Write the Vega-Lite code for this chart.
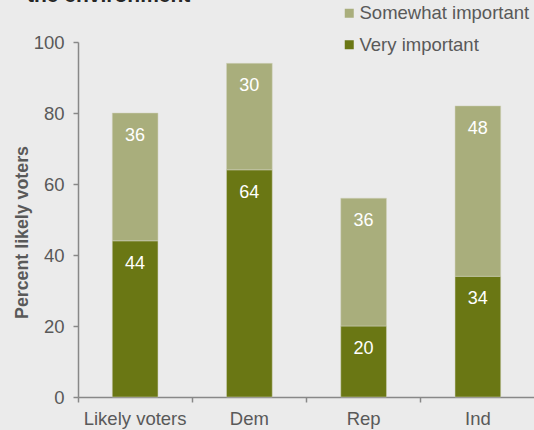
{
  "$schema": "https://vega.github.io/schema/vega-lite/v6.json",
  "autosize": "none",
  "width": 457,
  "height": 355,
  "padding": {"left": 78, "top": 42, "right": 0, "bottom": 33},
  "background": "#ebebeb",
  "title": {
    "text": "the environment",
    "anchor": "start",
    "frame": "group",
    "dx": -51,
    "offset": 0,
    "dy": 2,
    "font": "Liberation Sans",
    "fontSize": 21,
    "fontWeight": "bold",
    "color": "#262626"
  },
  "config": {
    "view": {"stroke": null},
    "font": "Liberation Sans"
  },
  "data": {
    "values": [
      {"group": "Likely voters", "series": "Very important", "rank": 1, "value": 44},
      {"group": "Likely voters", "series": "Somewhat important", "rank": 2, "value": 36},
      {"group": "Dem", "series": "Very important", "rank": 1, "value": 64},
      {"group": "Dem", "series": "Somewhat important", "rank": 2, "value": 30},
      {"group": "Rep", "series": "Very important", "rank": 1, "value": 20},
      {"group": "Rep", "series": "Somewhat important", "rank": 2, "value": 36},
      {"group": "Ind", "series": "Very important", "rank": 1, "value": 34},
      {"group": "Ind", "series": "Somewhat important", "rank": 2, "value": 48}
    ]
  },
  "encoding": {
    "x": {
      "field": "group",
      "type": "nominal",
      "sort": ["Likely voters", "Dem", "Rep", "Ind"],
      "scale": {"paddingInner": 0, "paddingOuter": 0},
      "axis": {
        "title": null,
        "labelAngle": 0,
        "labelFontSize": 18.5,
        "labelColor": "#595959",
        "labelPadding": 7,
        "domainColor": "#888888",
        "tickColor": "#888888",
        "tickSize": 5,
        "bandPosition": 0,
        "domainWidth": 1.5,
        "tickWidth": 1.5
      }
    },
    "y": {
      "field": "value",
      "type": "quantitative",
      "stack": "zero",
      "scale": {"domain": [0, 100], "nice": false},
      "axis": {
        "title": "Percent likely voters",
        "titleFontSize": 17.8,
        "titleFontWeight": "bold",
        "titleColor": "#595959",
        "titlePadding": 2,
        "titleY": 190,
        "values": [0, 20, 40, 60, 80, 100],
        "labelFontSize": 18.5,
        "labelColor": "#595959",
        "labelPadding": 9,
        "grid": false,
        "domainColor": "#888888",
        "tickColor": "#888888",
        "tickSize": 5,
        "domainWidth": 1.5,
        "tickWidth": 1.5
      }
    },
    "order": {"field": "rank", "type": "quantitative"}
  },
  "layer": [
    {
      "mark": {"type": "bar", "width": {"band": 0.4}, "stroke": "#d0d3bc", "strokeWidth": 0.5},
      "encoding": {
        "color": {
          "field": "series",
          "type": "nominal",
          "scale": {
            "domain": ["Somewhat important", "Very important"],
            "range": ["#a9ae7c", "#6a7714"]
          },
          "legend": {
            "title": null,
            "orient": "none",
            "legendX": 262,
            "legendY": -38,
            "padding": 0,
            "symbolType": "square",
            "symbolSize": 81,
            "symbolStrokeWidth": 0,
            "labelFontSize": 18.5,
            "labelColor": "#595959",
            "labelOffset": 1,
            "labelLimit": 0,
            "rowPadding": 12.5
          }
        }
      }
    },
    {
      "mark": {"type": "text", "color": "white", "fontSize": 18, "baseline": "middle", "dy": 23},
      "encoding": {
        "text": {"field": "value", "type": "quantitative"}
      }
    }
  ]
}
